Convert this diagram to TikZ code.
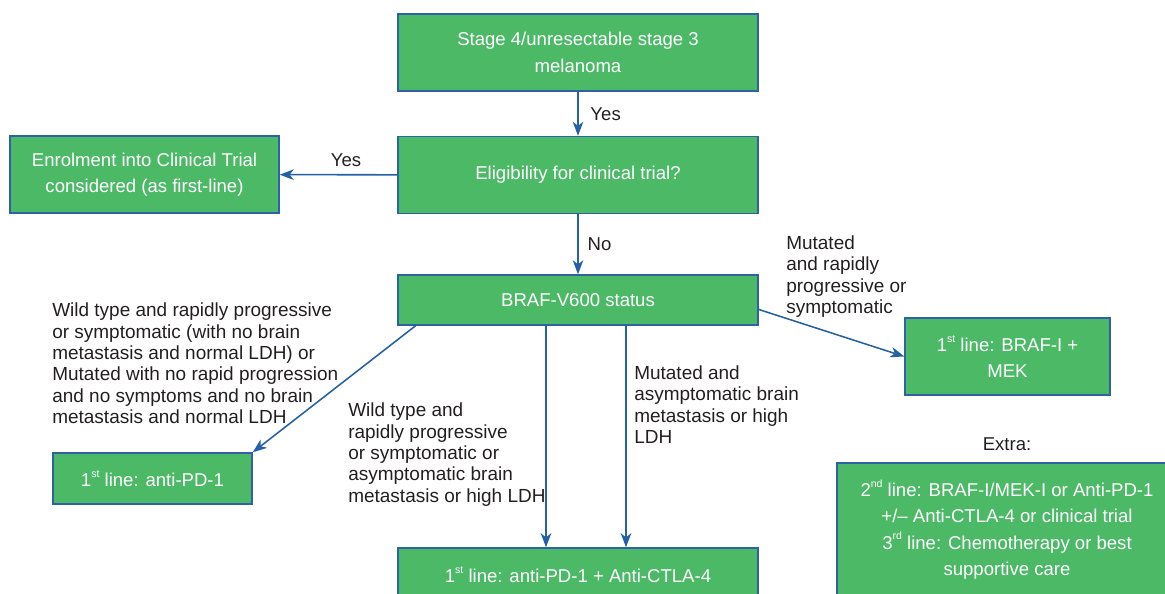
\documentclass[tikz,border=0pt]{standalone}
\usepackage{fontspec}
\setmainfont{Liberation Sans}
\usepackage{tikz}
\usetikzlibrary{arrows.meta, positioning}
\usepackage{xcolor}
\definecolor{boxgreen}{HTML}{4BB966}
\definecolor{boxblue}{HTML}{2E62A8}
\definecolor{arrowblue}{HTML}{2360A6}
\definecolor{textgray}{HTML}{231F20}
\newcommand{\ord}[1]{\raisebox{0.5em}{\fontsize{7.5}{7.5}\selectfont #1}}

\begin{document}
\begin{tikzpicture}[x=0.025cm,y=-0.025cm,>={Stealth[length=10pt,width=7.5pt,inset=3pt]}]
    \tikzstyle{box}=[shape=rectangle,draw=boxblue,fill=boxgreen,line width=1pt,text=white,align=center,inner sep=0pt,font=\fontsize{13.2}{18.8}\selectfont]
    \tikzstyle{note}=[align=left,anchor=west,inner sep=0pt,text=textgray,font=\fontsize{13.5}{15.2}\selectfont]
    \tikzstyle{tag}=[text=textgray,font=\fontsize{13.2}{15.2}\selectfont]
    \tikzstyle{flow}=[->,draw=arrowblue,line width=1.1pt]

    \useasboundingbox (0,0) rectangle (1165,593);

    \node[box, minimum width=9cm, minimum height=1.925cm] (stage) at (578,52.5) {Stage 4/unresectable stage 3\\melanoma};
    \node[box, minimum width=9cm, minimum height=1.925cm] (trial) at (578,175) {Eligibility for clinical trial?};
    \node[box, minimum width=6.725cm, minimum height=1.925cm] (enrol) at (144.5,174.5) {Enrolment into Clinical Trial\\considered (as first-line)};
    \node[box, minimum width=9cm, minimum height=1.25cm] (braf) at (578,300) {BRAF-V600 status};
    \node[box, minimum width=5.125cm, minimum height=1.925cm] (mek) at (1007.5,356.5) {1\ord{st} line: BRAF-I +\\MEK};
    \node[box, minimum width=4.975cm, minimum height=1.275cm] (pd1) at (152.5,478.5) {1\ord{st} line: anti-PD-1};
    \node[box, minimum width=9cm, minimum height=1.35cm] (combo) at (578,575) {1\ord{st} line: anti-PD-1 + Anti-CTLA-4};
    \node[box, minimum width=8.5cm, minimum height=3.325cm] (extrabox) at (1007,529.5) {2\ord{nd} line: BRAF-I/MEK-I or Anti-PD-1\\+/\textendash{} Anti-CTLA-4 or clinical trial\\3\ord{rd} line: Chemotherapy or best\\supportive care};
    \node[tag] (extra) at (1007,444) {Extra:};

    \node[note] (wildL) at (52,363.5) {Wild type and rapidly progressive\\or symptomatic (with no brain\\metastasis and normal LDH) or\\Mutated with no rapid progression\\and no symptoms and no brain\\metastasis and normal LDH};
    \node[note] (wildM) at (348,454.5) {Wild type and\\rapidly progressive\\or symptomatic or\\asymptomatic brain\\metastasis or high LDH};
    \node[note] (mutM) at (634,404.5) {Mutated and\\asymptomatic brain\\metastasis or high\\LDH};
    \node[note] (mutR) at (786,276.5) {Mutated\\and rapidly\\progressive or\\symptomatic};

    % drop points on the lower edge of the status box
    \coordinate (wildout) at (546,325);
    \coordinate (mutout) at (626,325);

    \path[every edge/.append style={flow}]
    (stage) edge node[tag, right=5pt] {Yes} (trial)
    (trial) edge node[tag, above=2pt, xshift=0.19cm] {Yes} (enrol)
    (trial) edge node[tag, right=3pt] {No} (braf)
    (braf.357.5) edge (mek.west)
    (braf.189) edge (pd1.north east)
    (wildout) edge (wildout |- combo.north)
    (mutout) edge (mutout |- combo.north);
\end{tikzpicture}
\end{document}
